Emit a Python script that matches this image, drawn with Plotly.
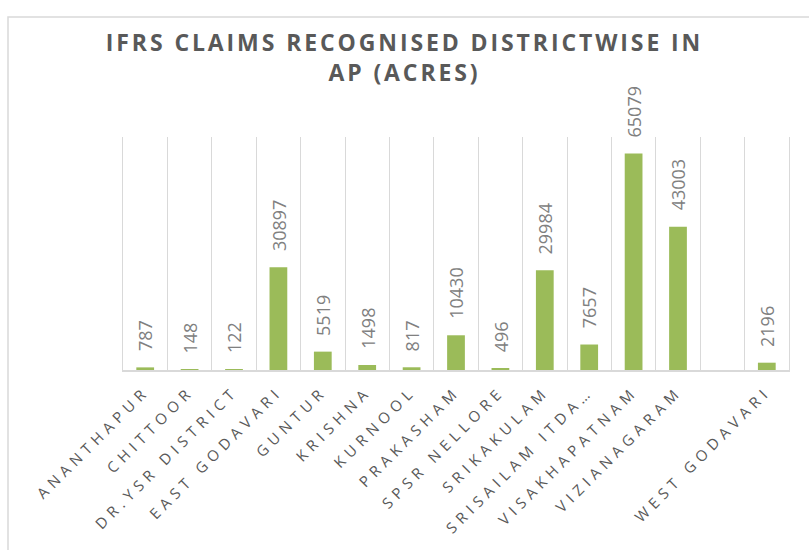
import plotly.graph_objects as go

districts = ["ANANTHAPUR", "CHITTOOR", "DR.YSR DISTRICT", "EAST GODAVARI", "GUNTUR",
             "KRISHNA", "KURNOOL", "PRAKASHAM", "SPSR NELLORE", "SRIKAKULAM",
             "SRISAILAM ITDA…", "VISAKHAPATNAM", "VIZIANAGARAM", " ", "WEST GODAVARI"]
acres = [787, 148, 122, 30897, 5519, 1498, 817, 10430, 496, 29984,
         7657, 65079, 43003, None, 2196]

title_text = "IFRS CLAIMS RECOGNISED DISTRICTWISE IN<br>AP (ACRES)"

W, H = 809, 550
ml, mr, mt, mb = 123, 20, 137, 180

fig = go.Figure()
fig.add_trace(go.Bar(x=districts, y=acres, marker=dict(color="#9bbb59", line=dict(width=0)),
                     hoverinfo="x+y"))

annotations = []
for d, v in zip(districts, acres):
    if v is None:
        continue
    annotations.append(dict(x=d, y=v, xref="x", yref="y", text=str(v), textangle=-90,
                            showarrow=False, xanchor="center", yanchor="bottom", yshift=14,
                            font=dict(family="Open Sans", size=18, color="#808080")))

pw = W - ml - mr
ph = H - mt - mb
fig.update_layout(
    width=W, height=H,
    margin=dict(l=ml, r=mr, t=mt, b=mb, autoexpand=False),
    paper_bgcolor="white", plot_bgcolor="white",
    bargap=0.6,
    showlegend=False,
    title=dict(text=title_text, x=0.5, xanchor="center", xref="container",
               y=1 - 51 / H, yanchor="top", yref="container",
               font=dict(family="Open Sans", size=23, color="#595959", weight="bold")),
    xaxis=dict(type="category", tickson="boundaries", showgrid=True, gridcolor="#d9d9d9",
               gridwidth=1, showline=True, linecolor="#d9d9d9", linewidth=1.5,
               ticks="", tickangle=-45, ticklabelstandoff=5, automargin=False,
               tickfont=dict(family="Open Sans", size=15, color="#595959"),
               range=[-0.5, len(districts) - 0.5], zeroline=False),
    yaxis=dict(range=[0, 70000], showgrid=False, showticklabels=False, zeroline=False,
               showline=True, mirror=True, linecolor="#d9d9d9", linewidth=1,
               ticks="", automargin=False),
    annotations=annotations,
    shapes=[dict(type="rect", xref="paper", yref="paper",
                 x0=(8 - ml) / pw, x1=(W + 20 - ml) / pw,
                 y0=-(H + 20 - (H - mb)) / ph, y1=(H - mb - 17) / ph,
                 line=dict(color="#d9d9d9", width=1.5), fillcolor="rgba(0,0,0,0)",
                 layer="below")],
)

post_script = """
document.body.style.margin = '0';
document.body.style.overflow = 'hidden';
var gd = document.getElementById('{plot_id}');
function spacing(){
  gd.querySelectorAll('.xtick text').forEach(function(t){ t.style.letterSpacing = '5.2px'; });
  gd.querySelectorAll('.gtitle').forEach(function(t){ t.style.letterSpacing = '2.9px'; });
}
spacing();
if (gd.on) { gd.on('plotly_afterplot', spacing); }
setTimeout(spacing, 50);
"""

fig.write_html("out.html", post_script=post_script, config={"displayModeBar": False})
